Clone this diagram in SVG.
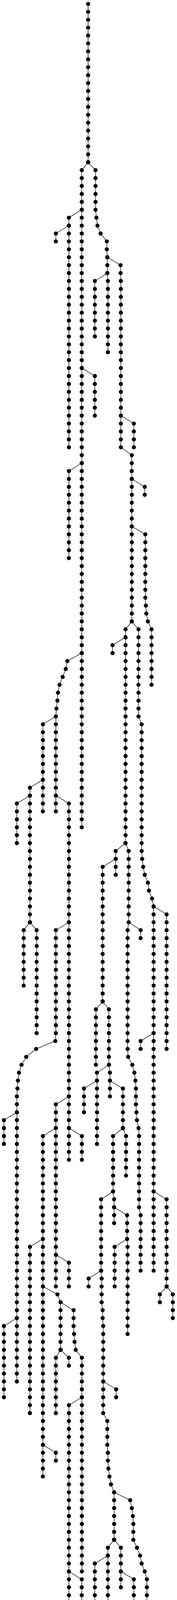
<svg xmlns="http://www.w3.org/2000/svg" width="454" height="5533" viewBox="0 0 454 5533">
<style>
#connectors{fill:none;stroke:#1a1a1a;stroke-width:1.4}
#nodes{fill:none;stroke:none;marker-start:url(#dot);marker-mid:url(#dot);marker-end:url(#dot)}
</style>
<defs>
<marker id="dot" markerUnits="userSpaceOnUse" markerWidth="12" markerHeight="12" refX="6" refY="6" viewBox="0 0 12 12" overflow="visible"><circle cx="6" cy="6" r="5.3" fill="#000"/></marker>
<path id="pA" d="M226 10V30.3V50.5V70.8V91.1V111.3V131.6V151.9V172.1V192.4V212.7V232.9V253.2V273.5V293.7V314V334.3V354.5V374.8V395.1V415.3"/>
<path id="pB" d="M226 415.3L209.7 435.6V455.9V476.1V496.4V516.7V536.9V557.2V577.5V597.7V618V638.3V658.5V678.8V699.1V719.3V739.6V759.9V780.1V800.4V820.7V840.9V861.2V881.5V901.7V922V942.3V962.5V982.8V1003.1V1023.4V1043.6V1063.9V1084.2V1104.4V1124.7V1145V1165.2V1185.5V1205.8V1226V1246.3V1266.6V1286.8V1307.1V1327.4V1347.6V1367.9V1388.2V1408.4V1428.7V1449V1469.2V1489.5V1509.8V1530V1550.3V1570.6V1590.8V1611.1V1631.4V1651.6V1671.9V1692.2V1712.4V1732.7V1753V1773.2V1793.5V1813.8V1834V1854.3V1874.6V1894.8V1915.1V1935.4V1955.6V1975.9V1996.2V2016.4V2036.7V2057V2077.2V2097.5V2117.8"/>
<path id="pC" d="M209.7 536.9L176.7 557.2V577.5V597.7V618V638.3V658.5V678.8V699.1V719.3V739.6V759.9V780.1V800.4V820.7V840.9V861.2V881.5V901.7V922V942.3V962.5V982.8V1003.1V1023.4V1043.6V1063.9V1084.2V1104.4V1124.7V1145"/>
<path id="pD" d="M176.7 577.5L143.3 597.7V618"/>
<path id="pE" d="M226 415.3L245 435.6V455.9V476.1V496.4V516.7V536.9L247.3 557.2L250 577.5L258 597.7L274 618V638.3L275.3 658.5V678.8V699.1L276.7 719.3V739.6V759.9V780.1V800.4V820.7V840.9V861.2V881.5V901.7"/>
<path id="pF" d="M275.3 658.5L309.3 678.8V699.1L310 719.3V739.6V759.9V780.1V800.4V820.7V840.9V861.2V881.5V901.7V922V942.3V962.5V982.8V1003.1V1023.4V1043.6V1063.9V1084.2V1104.4V1124.7V1145L338 1165.2V1185.5V1205.8V1226V1246.3V1266.6V1286.8V1307.1V1327.4V1347.6V1367.9V1388.2V1408.4V1428.7V1449V1469.2V1489.5V1509.8V1530V1550.3V1570.6V1590.8"/>
<path id="pG" d="M275.3 699.1L243.3 719.3V739.6V759.9V780.1V800.4V820.7V840.9V861.2"/>
<path id="pH" d="M209.7 942.3L243.3 962.5V982.8V1003.1V1023.4V1043.6V1063.9"/>
<path id="pI" d="M209.7 1185.5L176.7 1205.8V1226V1246.3V1266.6V1286.8V1307.1V1327.4V1347.6V1367.9V1388.2V1408.4V1428.7"/>
<path id="pJ" d="M310 1063.9L343.3 1084.2V1104.4V1124.7V1145"/>
<path id="pK" d="M338 1226L371.3 1246.3V1266.6"/>
<path id="pL" d="M338 1347.6L372.7 1367.9V1388.2V1408.4V1428.7V1449V1469.2V1489.5V1509.8V1530L374 1550.3L375.3 1570.6L379.3 1590.8L388.7 1611.1V1631.4V1651.6V1671.9V1692.2V1712.4V1732.7V1753"/>
<path id="pM" d="M209.7 1671.9L172.7 1692.2L168.7 1712.4L160.7 1732.7L152.7 1753L148.7 1773.2L147.3 1793.5L144.7 1813.8L143.3 1834V1854.3V1874.6V1894.8V1915.1V1935.4V1955.6V1975.9V1996.2V2016.4V2036.7V2057V2077.2"/>
<path id="pN" d="M338 1590.8L322 1611.1V1631.4V1651.6V1671.9V1692.2V1712.4V1732.7V1753V1773.2V1793.5V1813.8V1834V1854.3V1874.6V1894.8V1915.1V1935.4V1955.6V1975.9V1996.2V2016.4V2036.7V2057V2077.2V2097.5V2117.8V2138V2158.3"/>
<path id="pO" d="M338 1590.8L355.3 1611.1V1631.4V1651.6V1671.9V1692.2V1712.4V1732.7V1753V1773.2V1793.5V1813.8V1834L363.3 1854.3V1874.6V1894.8V1915.1V1935.4V1955.6V1975.9V1996.2V2016.4V2036.7V2057V2077.2V2097.5V2117.8V2138V2158.3V2178.6L364.7 2198.8L367.3 2219.1L371.3 2239.4L379.3 2259.6L382 2279.9L390 2300.2L394 2320.4V2340.7V2361V2381.2V2401.5V2421.8V2442V2462.3V2482.6V2502.8V2523.1V2543.4V2563.6V2583.9V2604.2V2624.4V2644.7V2665V2685.2V2705.5V2725.8V2746V2766.3V2786.6V2806.8V2827.1V2847.4V2867.6V2887.9V2908.2V2928.4V2948.7V2969V2989.2V3009.5V3029.8V3050.1V3070.3V3090.6V3110.9V3131.1V3151.4V3171.7V3191.9V3212.2V3232.5V3252.7"/>
<path id="pP" d="M322 1631.4L288.7 1651.6V1671.9"/>
<path id="pQ" d="M143.3 1834L110 1854.3V1874.6V1894.8V1915.1V1935.4V1955.6V1975.9V1996.2V2016.4V2036.7V2057V2077.2"/>
<path id="pR" d="M110 1996.2L76.7 2016.4V2036.7V2057V2077.2V2097.5V2117.8V2138V2158.3V2178.6V2198.8V2219.1V2239.4V2259.6V2279.9V2300.2V2320.4V2340.7V2361"/>
<path id="pS" d="M76.7 2036.7L43.3 2057V2077.2V2097.5V2117.8V2138V2158.3"/>
<path id="pT" d="M143.3 2036.7L176.7 2057V2077.2V2097.5V2117.8V2138V2158.3V2178.6V2198.8V2219.1V2239.4V2259.6V2279.9V2300.2V2320.4V2340.7V2361V2381.2V2401.5V2421.8V2442V2462.3V2482.6V2502.8V2523.1V2543.4V2563.6V2583.9V2604.2V2624.4V2644.7V2665V2685.2V2705.5V2725.8V2746V2766.3V2786.6V2806.8V2827.1V2847.4V2867.6V2887.9V2908.2V2928.4V2948.7V2969"/>
<path id="pU" d="M322 2158.3L296.7 2178.6V2198.8V2219.1V2239.4"/>
<path id="pV" d="M322 2158.3L330 2178.6V2198.8V2219.1V2239.4V2259.6V2279.9V2300.2V2320.4V2340.7V2361L327.3 2381.2V2401.5V2421.8V2442V2462.3V2482.6V2502.8V2523.1V2543.4V2563.6V2583.9V2604.2V2624.4V2644.7V2665V2685.2L328.7 2705.5L339.3 2725.8L344.7 2746L347.3 2766.3L348.7 2786.6V2806.8V2827.1L350 2847.4L351.3 2867.6L355.3 2887.9L356.7 2908.2V2928.4V2948.7V2969V2989.2V3009.5V3029.8V3050.1V3070.3V3090.6L360.7 3110.9V3131.1V3151.4V3171.7V3191.9V3212.2V3232.5V3252.7"/>
<path id="pW" d="M296.7 2198.8L263.3 2219.1V2239.4V2259.6V2279.9V2300.2V2320.4V2340.7V2361V2381.2V2401.5V2421.8V2442V2462.3V2482.6V2502.8V2523.1V2543.4V2563.6"/>
<path id="pX1" d="M76.7 2361L60.7 2381.2V2401.5V2421.8V2442V2462.3V2482.6V2502.8V2523.1"/>
<path id="pX2" d="M76.7 2361L94 2381.2V2401.5V2421.8V2442V2462.3V2482.6V2502.8V2523.1V2543.4V2563.6V2583.9V2604.2V2624.4V2644.7"/>
<path id="pY" d="M176.7 2361L143.3 2381.2V2401.5V2421.8V2442V2462.3V2482.6V2502.8V2523.1V2543.4V2563.6V2583.9V2604.2V2624.4V2644.7L142 2665L92.7 2685.2L67.3 2705.5L55.3 2725.8L48.7 2746L46 2766.3L44.7 2786.6L43.3 2806.8V2827.1V2847.4V2867.6V2887.9V2908.2V2928.4V2948.7V2969V2989.2V3009.5V3029.8V3050.1V3070.3V3090.6V3110.9V3131.1V3151.4V3171.7V3191.9V3212.2V3232.5V3252.7V3273V3293.3V3313.5V3333.8V3354.1V3374.3V3394.6V3414.9V3435.1V3455.4V3475.7V3495.9V3516.2V3536.5"/>
<path id="pZ" d="M330 2361L360.7 2381.2V2401.5"/>
<path id="pAA" d="M394 2320.4L427.3 2340.7V2361V2381.2V2401.5V2421.8V2442V2462.3V2482.6V2502.8V2523.1V2543.4V2563.6V2583.9V2604.2V2624.4V2644.7V2665V2685.2"/>
<path id="pAB" d="M394 2644.7L360.7 2665V2685.2"/>
<path id="pAC" d="M263.3 2563.6L246 2583.9V2604.2V2624.4V2644.7V2665V2685.2V2705.5V2725.8"/>
<path id="pAD" d="M263.3 2563.6L279.3 2583.9V2604.2V2624.4V2644.7V2665V2685.2V2705.5V2725.8L282 2746V2766.3V2786.6V2806.8"/>
<path id="pAE" d="M279.3 2725.8L248.7 2746V2766.3V2786.6V2806.8V2827.1V2847.4V2867.6V2887.9V2908.2V2928.4"/>
<path id="pAF" d="M248.7 2766.3L215.3 2786.6V2806.8V2827.1V2847.4"/>
<path id="pAG" d="M282 2766.3L315.3 2786.6V2806.8V2827.1V2847.4V2867.6V2887.9"/>
<path id="pAH" d="M315.3 2887.9L323.3 2908.2V2928.4V2948.7V2969V2989.2V3009.5"/>
<path id="pAI" d="M315.3 2887.9L290 2908.2V2928.4V2948.7V2969V2989.2V3009.5V3029.8V3050.1L292.7 3070.3V3090.6V3110.9V3131.1"/>
<path id="pAJ" d="M43.3 2847.4L10 2867.6V2887.9V2908.2V2928.4"/>
<path id="pAK" d="M176.7 2806.8L143.3 2827.1V2847.4V2867.6V2887.9V2908.2V2928.4V2948.7V2969V2989.2V3009.5V3029.8V3050.1V3070.3V3090.6V3110.9V3131.1V3151.4V3171.7V3191.9V3212.2V3232.5V3252.7V3273V3293.3"/>
<path id="pAL" d="M176.7 2887.9L210 2908.2V2928.4V2948.7V2969"/>
<path id="pAM" d="M143.3 2887.9L110 2908.2V2928.4V2948.7V2969V2989.2V3009.5V3029.8V3050.1V3070.3V3090.6V3110.9V3131.1V3151.4V3171.7V3191.9V3212.2V3232.5V3252.7V3273V3293.3V3313.5V3333.8V3354.1V3374.3V3394.6V3414.9V3435.1V3455.4V3475.7V3495.9V3516.2V3536.5V3556.7V3577V3597.3V3617.5V3637.8V3658.1V3678.3V3698.6V3718.9V3739.1V3759.4V3779.7"/>
<path id="pAN" d="M110 3171.7L76.7 3191.9V3212.2V3232.5V3252.7V3273V3293.3V3313.5V3333.8V3354.1V3374.3V3394.6V3414.9V3435.1V3455.4V3475.7V3495.9V3516.2V3536.5V3556.7V3577V3597.3V3617.5"/>
<path id="pAO" d="M143.3 3212.2L176.7 3232.5V3252.7V3273V3293.3"/>
<path id="pAP" d="M290 3050.1L259.3 3070.3V3090.6V3110.9V3131.1V3151.4V3171.7V3191.9V3212.2V3232.5V3252.7L260.7 3273V3293.3V3313.5V3333.8L263.3 3354.1V3374.3L264.7 3394.6V3414.9V3435.1V3455.4V3475.7V3495.9V3516.2V3536.5V3556.7V3577V3597.3V3617.5L275.3 3637.8V3658.1V3678.3V3698.6L276.7 3718.9V3739.1L278 3759.4L280.7 3779.7L284.7 3799.9L292.7 3820.2V3840.5V3860.7V3881V3901.3V3921.5V3941.8"/>
<path id="pAQ" d="M292.7 3090.6L326 3110.9V3131.1V3151.4V3171.7L327.3 3191.9V3212.2V3232.5V3252.7V3273V3293.3V3313.5V3333.8V3354.1V3374.3V3394.6V3414.9"/>
<path id="pAR" d="M326 3171.7L294 3191.9V3212.2V3232.5V3252.7V3273V3293.3"/>
<path id="pAS" d="M394 3050.1L427.3 3070.3V3090.6V3110.9V3131.1V3151.4V3171.7V3191.9V3212.2V3232.5V3252.7V3273V3293.3"/>
<path id="pAT" d="M427.3 3293.3L410 3313.5V3333.8"/>
<path id="pAU" d="M427.3 3293.3L443.3 3313.5V3333.8V3354.1V3374.3"/>
<path id="pAV" d="M43.3 3374.3L10 3394.6V3414.9V3435.1V3455.4V3475.7V3495.9V3516.2V3536.5V3556.7V3577"/>
<path id="pAW" d="M110 3293.3L147.3 3313.5L155.3 3333.8V3354.1V3374.3V3394.6V3414.9V3435.1V3455.4"/>
<path id="pAX" d="M155.3 3333.8L188.7 3354.1V3374.3V3394.6L190 3414.9L191.3 3435.1L194 3455.4L210 3475.7V3495.9V3516.2V3536.5V3556.7V3577V3597.3V3617.5V3637.8V3658.1V3678.3V3698.6V3718.9V3739.1V3759.4V3779.7V3799.9V3820.2V3840.5V3860.7V3881V3901.3V3921.5V3941.8V3962.1V3982.3V4002.6V4022.9"/>
<path id="pAY" d="M155.3 3455.4L143.3 3475.7V3495.9V3516.2V3536.5V3556.7V3577V3597.3V3617.5"/>
<path id="pAZ" d="M155.3 3455.4L176.7 3475.7V3495.9"/>
<path id="pBA" d="M259.3 3252.7L227.3 3273V3293.3"/>
<path id="pBB" d="M264.7 3536.5L298 3556.7V3577"/>
<path id="pBC" d="M210 3577L176.7 3597.3V3617.5V3637.8V3658.1V3678.3V3698.6V3718.9V3739.1V3759.4V3779.7V3799.9V3820.2V3840.5V3860.7V3881V3901.3V3921.5V3941.8V3962.1V3982.3V4002.6V4022.9V4043.1V4063.4V4083.7V4103.9V4124.2V4144.5V4164.7V4185V4205.3V4225.5"/>
<path id="pBD" d="M110 3698.6L143.3 3718.9V3739.1"/>
<path id="pBE" d="M292.7 3820.2L334 3840.5L338 3860.7L340.7 3881L342 3901.3V3921.5V3941.8L351.3 3962.1L359.3 3982.3L363.3 4002.6L371.3 4022.9L376.7 4043.1V4063.4V4083.7V4103.9V4124.2V4144.5V4164.7V4185V4205.3V4225.5V4245.8V4266.1"/>
<path id="pBF" d="M292.7 3941.8L276.7 3962.1V3982.3V4002.6V4022.9V4043.1V4063.4V4083.7V4103.9V4124.2V4144.5V4164.7V4185V4205.3V4225.5"/>
<path id="pBG" d="M292.7 3941.8L310 3962.1V3982.3V4002.6V4022.9V4043.1V4063.4"/>
<path id="pBH" d="M276.7 3982.3L243.3 4002.6V4022.9V4043.1V4063.4V4083.7V4103.9"/>
<path id="pBI" d="M310 4022.9L343.3 4043.1V4063.4V4083.7V4103.9V4124.2V4144.5V4164.7V4185V4205.3V4225.5V4245.8V4266.1V4286.3V4306.6V4326.9V4347.1V4367.4V4387.7"/>
<path id="pBJ" d="M176.7 4022.9L209.7 4043.1V4063.4V4083.7V4103.9V4124.2V4144.5V4164.7V4185V4205.3V4225.5V4245.8V4266.1V4286.3V4306.6V4326.9V4347.1V4367.4V4387.7V4407.9V4428.2V4448.5V4468.7V4489V4509.3V4529.5V4549.8V4570.1V4590.3V4610.6V4630.9V4651.1V4671.4V4691.7V4711.9V4732.2V4752.5V4772.7V4793"/>
<path id="pBK" d="M209.7 4144.5L243.3 4164.7V4185"/>
<path id="pBL" d="M176.7 4185L143.3 4205.3V4225.5V4245.8V4266.1"/>
<path id="pBM" d="M343.3 4387.7L326 4407.9V4428.2V4448.5V4468.7V4489V4509.3V4529.5V4549.8V4570.1V4590.3V4610.6V4630.9V4651.1V4671.4V4691.7V4711.9V4732.2V4752.5V4772.7V4793V4813.3V4833.5"/>
<path id="pBN" d="M343.3 4387.7L359.3 4407.9V4428.2V4448.5V4468.7V4489V4509.3V4529.5V4549.8V4570.1V4590.3V4610.6V4630.9V4651.1V4671.4V4691.7V4711.9V4732.2V4752.5V4772.7V4793V4813.3V4833.5V4853.8V4874.1V4894.3V4914.6V4934.9V4955.1V4975.4V4995.7"/>
<path id="pBO" d="M359.3 4671.4L392.7 4691.7V4711.9V4732.2V4752.5V4772.7V4793"/>
<path id="pBP" d="M209.7 4793L191.3 4813.3V4833.5V4853.8V4874.1V4894.3V4914.6V4934.9V4955.1"/>
<path id="pBQ" d="M209.7 4793L226 4813.3V4833.5L227.3 4853.8L235.3 4874.1L239.3 4894.3L242 4914.6V4934.9V4955.1V4975.4V4995.7V5015.9V5036.2V5056.5V5076.7V5097V5117.3V5137.5V5157.8V5178.1V5198.3"/>
<path id="pBR" d="M191.3 4833.5L142 4853.8V4874.1V4894.3V4914.6V4934.9V4955.1V4975.4V4995.7V5015.9V5036.2"/>
<path id="pBS" d="M191.3 4955.1L175.3 4975.4V4995.7V5015.9V5036.2"/>
<path id="pBT" d="M191.3 4955.1L208.7 4975.4V4995.7V5015.9V5036.2V5056.5V5076.7V5097V5117.3V5137.5V5157.8V5178.1V5198.3V5218.6V5238.9V5259.1V5279.4V5299.7V5319.9V5340.2V5360.5V5380.7V5401V5421.3V5441.5V5461.8V5482.1V5502.3V5522.6"/>
<path id="pBU" d="M242 4914.6L275.3 4934.9V4955.1V4975.4V4995.7V5015.9V5036.2V5056.5V5076.7"/>
<path id="pBV" d="M275.3 5036.2L308.7 5056.5V5076.7V5097V5117.3"/>
<path id="pBW" d="M242 5157.8L275.3 5178.1V5198.3V5218.6V5238.9"/>
</defs>
<rect width="454" height="5533" fill="#fff"/>
<g id="connectors">
<use href="#pA"/><use href="#pB"/><use href="#pC"/><use href="#pD"/><use href="#pE"/><use href="#pF"/><use href="#pG"/><use href="#pH"/><use href="#pI"/><use href="#pJ"/><use href="#pK"/><use href="#pL"/><use href="#pM"/><use href="#pN"/><use href="#pO"/><use href="#pP"/><use href="#pQ"/><use href="#pR"/><use href="#pS"/><use href="#pT"/><use href="#pU"/><use href="#pV"/><use href="#pW"/><use href="#pX1"/><use href="#pX2"/><use href="#pY"/><use href="#pZ"/><use href="#pAA"/><use href="#pAB"/><use href="#pAC"/><use href="#pAD"/><use href="#pAE"/><use href="#pAF"/><use href="#pAG"/><use href="#pAH"/><use href="#pAI"/><use href="#pAJ"/><use href="#pAK"/><use href="#pAL"/><use href="#pAM"/><use href="#pAN"/><use href="#pAO"/><use href="#pAP"/><use href="#pAQ"/><use href="#pAR"/><use href="#pAS"/><use href="#pAT"/><use href="#pAU"/><use href="#pAV"/><use href="#pAW"/><use href="#pAX"/><use href="#pAY"/><use href="#pAZ"/><use href="#pBA"/><use href="#pBB"/><use href="#pBC"/><use href="#pBD"/><use href="#pBE"/><use href="#pBF"/><use href="#pBG"/><use href="#pBH"/><use href="#pBI"/><use href="#pBJ"/><use href="#pBK"/><use href="#pBL"/><use href="#pBM"/><use href="#pBN"/><use href="#pBO"/><use href="#pBP"/><use href="#pBQ"/><use href="#pBR"/><use href="#pBS"/><use href="#pBT"/><use href="#pBU"/><use href="#pBV"/><use href="#pBW"/>
</g>
<g id="nodes">
<g id="n-A"><use href="#pA"/></g><g id="n-B"><use href="#pB"/></g><g id="n-C"><use href="#pC"/></g><g id="n-D"><use href="#pD"/></g><g id="n-E"><use href="#pE"/></g><g id="n-F"><use href="#pF"/></g><g id="n-G"><use href="#pG"/></g><g id="n-H"><use href="#pH"/></g><g id="n-I"><use href="#pI"/></g><g id="n-J"><use href="#pJ"/></g><g id="n-K"><use href="#pK"/></g><g id="n-L"><use href="#pL"/></g><g id="n-M"><use href="#pM"/></g><g id="n-N"><use href="#pN"/></g><g id="n-O"><use href="#pO"/></g><g id="n-P"><use href="#pP"/></g><g id="n-Q"><use href="#pQ"/></g><g id="n-R"><use href="#pR"/></g><g id="n-S"><use href="#pS"/></g><g id="n-T"><use href="#pT"/></g><g id="n-U"><use href="#pU"/></g><g id="n-V"><use href="#pV"/></g><g id="n-W"><use href="#pW"/></g><g id="n-X1"><use href="#pX1"/></g><g id="n-X2"><use href="#pX2"/></g><g id="n-Y"><use href="#pY"/></g><g id="n-Z"><use href="#pZ"/></g><g id="n-AA"><use href="#pAA"/></g><g id="n-AB"><use href="#pAB"/></g><g id="n-AC"><use href="#pAC"/></g><g id="n-AD"><use href="#pAD"/></g><g id="n-AE"><use href="#pAE"/></g><g id="n-AF"><use href="#pAF"/></g><g id="n-AG"><use href="#pAG"/></g><g id="n-AH"><use href="#pAH"/></g><g id="n-AI"><use href="#pAI"/></g><g id="n-AJ"><use href="#pAJ"/></g><g id="n-AK"><use href="#pAK"/></g><g id="n-AL"><use href="#pAL"/></g><g id="n-AM"><use href="#pAM"/></g><g id="n-AN"><use href="#pAN"/></g><g id="n-AO"><use href="#pAO"/></g><g id="n-AP"><use href="#pAP"/></g><g id="n-AQ"><use href="#pAQ"/></g><g id="n-AR"><use href="#pAR"/></g><g id="n-AS"><use href="#pAS"/></g><g id="n-AT"><use href="#pAT"/></g><g id="n-AU"><use href="#pAU"/></g><g id="n-AV"><use href="#pAV"/></g><g id="n-AW"><use href="#pAW"/></g><g id="n-AX"><use href="#pAX"/></g><g id="n-AY"><use href="#pAY"/></g><g id="n-AZ"><use href="#pAZ"/></g><g id="n-BA"><use href="#pBA"/></g><g id="n-BB"><use href="#pBB"/></g><g id="n-BC"><use href="#pBC"/></g><g id="n-BD"><use href="#pBD"/></g><g id="n-BE"><use href="#pBE"/></g><g id="n-BF"><use href="#pBF"/></g><g id="n-BG"><use href="#pBG"/></g><g id="n-BH"><use href="#pBH"/></g><g id="n-BI"><use href="#pBI"/></g><g id="n-BJ"><use href="#pBJ"/></g><g id="n-BK"><use href="#pBK"/></g><g id="n-BL"><use href="#pBL"/></g><g id="n-BM"><use href="#pBM"/></g><g id="n-BN"><use href="#pBN"/></g><g id="n-BO"><use href="#pBO"/></g><g id="n-BP"><use href="#pBP"/></g><g id="n-BQ"><use href="#pBQ"/></g><g id="n-BR"><use href="#pBR"/></g><g id="n-BS"><use href="#pBS"/></g><g id="n-BT"><use href="#pBT"/></g><g id="n-BU"><use href="#pBU"/></g><g id="n-BV"><use href="#pBV"/></g><g id="n-BW"><use href="#pBW"/></g>
</g>
</svg>
